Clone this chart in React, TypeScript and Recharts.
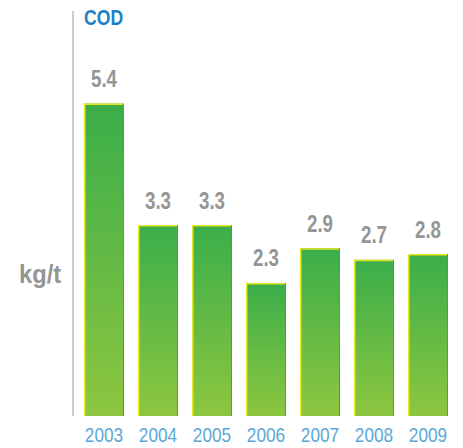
import React from 'react';
import { BarChart, Bar, XAxis, YAxis, LabelList } from 'recharts';

const years = ['2003', '2004', '2005', '2006', '2007', '2008', '2009'];
const codValues = [5.4, 3.3, 3.3, 2.3, 2.9, 2.7, 2.8];
const yDomain = [0, 7];

const data = years.map((y, i) => ({ year: y, cod: codValues[i] }));

const FONT = '"Liberation Sans", Arial, sans-serif';

const NarrowText = ({ x, y, sx, anchor, fill, size, weight, children }: any) => (
  <text
    transform={`translate(${x},${y}) scale(${sx},1)`}
    textAnchor={anchor}
    fill={fill}
    fontSize={size}
    fontWeight={weight}
    fontFamily={FONT}
  >
    {children}
  </text>
);

const BarShape = (props: any) => {
  const { x, y, width, height } = props;
  if (!height || height <= 0) return null;
  return (
    <g>
      <rect x={x} y={y} width={width} height={height} fill="url(#codGrad)" />
      <line x1={x + 0.75} y1={y} x2={x + 0.75} y2={y + height} stroke="#e6e620" strokeWidth={1.5} />
      <line x1={x} y1={y + 0.75} x2={x + width} y2={y + 0.75} stroke="#e6e620" strokeWidth={1.5} />
      <line x1={x + width - 0.5} y1={y} x2={x + width - 0.5} y2={y + height} stroke="#3fa843" strokeWidth={1} />
    </g>
  );
};

const YearTick = (props: any) => {
  const { x, y, payload } = props;
  return (
    <NarrowText x={x} y={y + 18} sx={0.82} anchor="middle" fill="#5aa7d8" size={21} weight="normal">
      {payload.value}
    </NarrowText>
  );
};

const ValueLabel = (props: any) => {
  const { x, y, width, value } = props;
  return (
    <NarrowText x={x + width / 2} y={y - 16.5} sx={0.78} anchor="middle" fill="#959595" size={24} weight="bold">
      {Number(value).toFixed(1)}
    </NarrowText>
  );
};

export default function App() {
  return (
    <div style={{ position: 'absolute', left: 0, top: 0, width: 463, height: 448, background: '#fff' }}>
      <BarChart
        width={463}
        height={448}
        data={data}
        margin={{ top: 11, right: 8, bottom: 0, left: 0 }}
        barSize={40}
      >
        <defs>
          <linearGradient id="codGrad" x1="0" y1="0" x2="0" y2="1">
            <stop offset="0%" stopColor="#3aae4a" />
            <stop offset="100%" stopColor="#8dc63f" />
          </linearGradient>
        </defs>
        <XAxis
          dataKey="year"
          axisLine={false}
          tickLine={false}
          height={32}
          padding={{ left: 4, right: 0 }}
          tick={<YearTick />}
          interval={0}
        />
        <YAxis
          width={73}
          domain={yDomain}
          tick={false}
          tickLine={false}
          axisLine={{ stroke: '#9a9a9a', strokeWidth: 1 }}
        />
        <Bar dataKey="cod" isAnimationActive={false} shape={<BarShape />}>
          <LabelList dataKey="cod" content={<ValueLabel />} />
        </Bar>
        <NarrowText x={84} y={25} sx={0.8} anchor="start" fill="#1f7fc4" size={22} weight="bold">
          COD
        </NarrowText>
        <NarrowText x={19} y={283} sx={0.95} anchor="start" fill="#959595" size={25} weight="bold">
          kg/t
        </NarrowText>
      </BarChart>
    </div>
  );
}
